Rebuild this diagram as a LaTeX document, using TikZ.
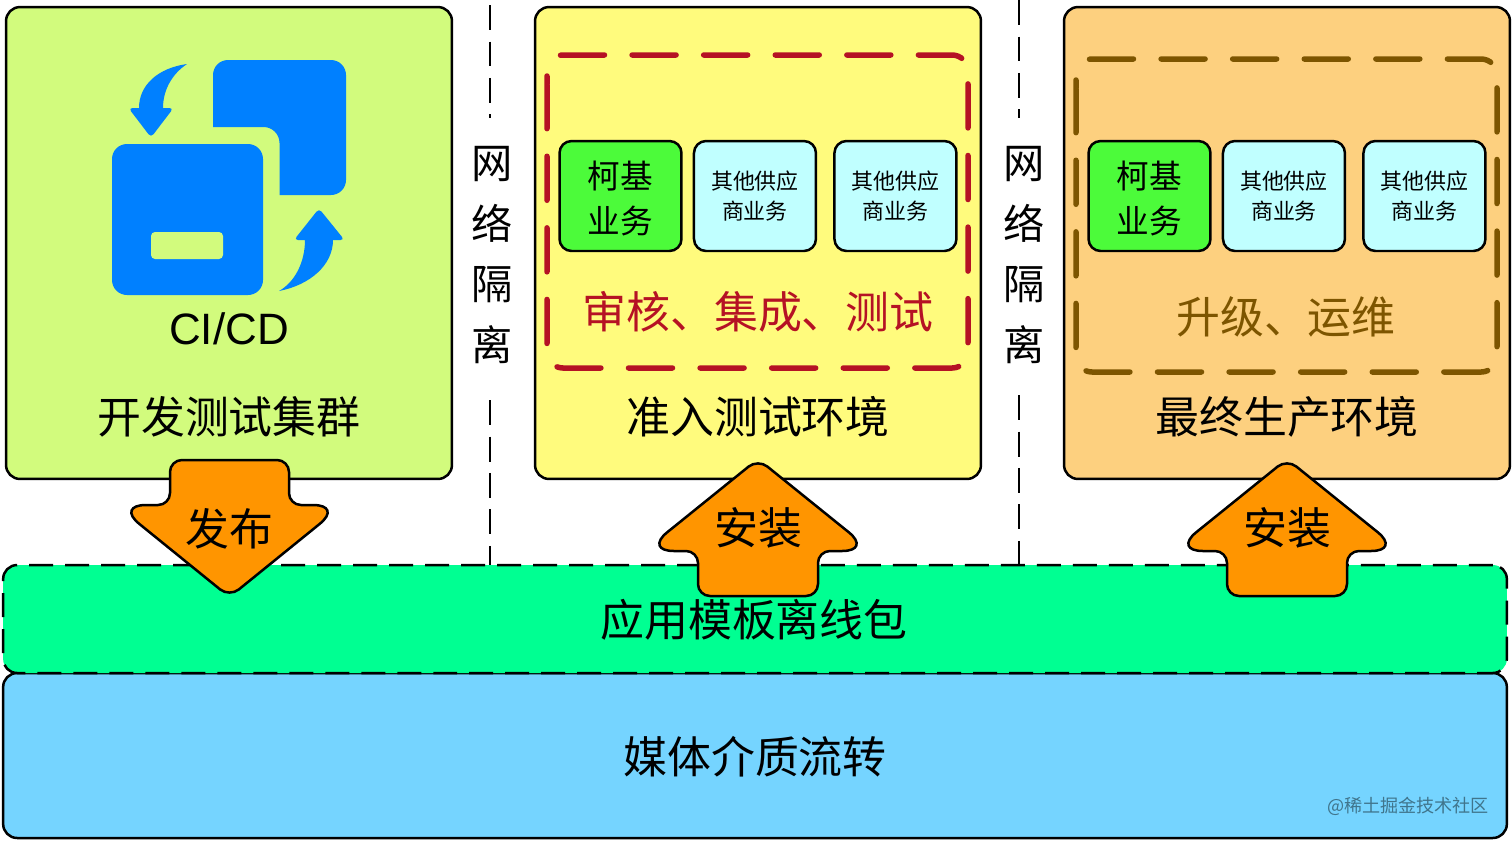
\documentclass[tikz,border=0pt]{standalone}
\usepackage{fontspec}
\setmainfont{Noto Sans CJK SC}
\newfontfamily\latinfont{Liberation Sans}
\usetikzlibrary{positioning}
\definecolor{devgreen}{RGB}{210, 251, 125}
\definecolor{testyellow}{RGB}{255, 251, 125}
\definecolor{prodorange}{RGB}{253, 208, 127}
\definecolor{bandgreen}{RGB}{0, 255, 146}
\definecolor{bandblue}{RGB}{117, 212, 255}
\definecolor{kejigreen}{RGB}{76, 251, 58}
\definecolor{vendorcyan}{RGB}{192, 255, 255}
\definecolor{arroworange}{RGB}{255, 149, 0}
\definecolor{iconblue}{RGB}{0, 128, 255}
\definecolor{framered}{RGB}{181, 18, 36}
\definecolor{framebrown}{RGB}{125, 85, 0}
\tikzset{
  envbox/.style={draw=black, rectangle, rounded corners=0.28cm, line width=0.05cm, minimum width=8.92cm, minimum height=9.44cm},
  bandbox/.style={draw=black, rectangle, rounded corners=0.28cm, line width=0.05cm, minimum width=30.08cm, inner sep=0pt},
  bizbox/.style={draw=black, rectangle, rounded corners=0.24cm, line width=0.05cm, minimum width=2.44cm, minimum height=2.2cm, align=center, inner sep=0pt},
  isoline/.style={line width=0.05cm, dash pattern=on 0.5cm off 0.23cm},
  gateframe/.style={line width=0.11cm, line cap=round, rounded corners=0.32cm, dash pattern=on 0.88cm off 0.552cm, dash phase=0.72cm},
  bigarrow/.style={draw=black, fill=arroworange, line width=0.05cm},
  bigtext/.style={font=\fontsize{25pt}{30pt}\selectfont, inner sep=0pt},
  kejitext/.style={font=\fontsize{18.6pt}{25.6pt}\selectfont},
  vendortext/.style={font=\fontsize{12.5pt}{17pt}\selectfont},
  isotext/.style={font=\fontsize{23.5pt}{34.6pt}\selectfont, align=center, inner sep=0pt}
}

\begin{document}
\begin{tikzpicture}[x=0.02cm, y=-0.02cm]
  \useasboundingbox (0,0) rectangle (1512,840);

  % environments
  \node [envbox, fill=devgreen] (dev) at (229,243) {};
  \node [envbox, fill=testyellow] (test) at (758,243) {};
  \node [envbox, fill=prodorange] (prod) at (1287,243) {};

  % network isolation
  \coordinate (isotopa) at (490,5);
  \coordinate (isoenda) at (490,118);
  \coordinate (isotopb) at (1019,0);
  \coordinate (isoendb) at (1019,118);
  \coordinate (isolowa) at (490,400);
  \coordinate (isobota) at (490,565);
  \coordinate (isolowb) at (1019,395);
  \coordinate (isobotb) at (1019,565);
  \draw [isoline] (isotopa) -- (isoenda);
  \draw [isoline] (isotopb) -- (isoendb);
  \draw [isoline] (isolowa) -- (isobota);
  \draw [isoline] (isolowb) -- (isobotb);
  \node [isotext] (isolabela) at (492,255) {网\\络\\隔\\离};
  \node [isotext] (isolabelb) at (1024,255) {网\\络\\隔\\离};

  % CI/CD icon
  \fill [iconblue, rounded corners=0.3cm] (112,144) rectangle (263,295);
  \fill [devgreen, rounded corners=0.08cm] (151,232) rectangle (223,259);
  \fill [iconblue] (213,127) [rounded corners=0.3cm] -- (213,60) -- (346,60) -- (346,195) [sharp corners] -- (279.5,195) [rounded corners=0.32cm] -- (279.5,127) [sharp corners] -- (213,127) -- cycle;
  \fill [iconblue] (139,108) .. controls (139,85) and (158,68) .. (187,64) .. controls (172,74) and (163,90) .. (163,108) [rounded corners=0.08cm] -- (173.5,108) -- (151,137.5) -- (128.5,108) [sharp corners] -- cycle;
  \fill [iconblue] (305,240) .. controls (305,262) and (295,282) .. (279,291) .. controls (310,285) and (333,265) .. (333,240) [rounded corners=0.08cm] -- (344.5,240) -- (319,208.5) -- (294,240) [sharp corners] -- cycle;
  \node [bigtext, font=\fontsize{25pt}{30pt}\selectfont\latinfont] (cicd) at (229,329) {CI/CD};

  % admission test
  \draw [gateframe, draw=framered] (547,100) -- (547,55) -- (968,55) -- (968,368) -- (547,368) -- cycle;
  \node [bizbox, fill=kejigreen, kejitext, text depth=0pt] (kejitest) at (620.5,196) {\raisebox{-1pt}{柯基}\\\raisebox{-1pt}{业务}};
  \node [bizbox, fill=vendorcyan, vendortext, right=0.2cm of kejitest] (vendora) {其他供应\\商业务};
  \node [bizbox, fill=vendorcyan, vendortext, right=0.32cm of vendora] (vendorb) {其他供应\\商业务};
  \node [bigtext, text=framered] (checks) at (758,312) {审核、集成、测试};

  % production
  \draw [gateframe, draw=framebrown] (1076,104) -- (1076,59) -- (1497,59) -- (1497,372) -- (1076,372) -- cycle;
  \node [bizbox, fill=kejigreen, kejitext, text depth=0pt] (kejiprod) at (1149.5,196) {\raisebox{-1pt}{柯基}\\\raisebox{-1pt}{业务}};
  \node [bizbox, fill=vendorcyan, vendortext, right=0.2cm of kejiprod] (vendorc) {其他供应\\商业务};
  \node [bizbox, fill=vendorcyan, vendortext, right=0.32cm of vendorc] (vendord) {其他供应\\商业务};
  \node [bigtext, text=framebrown] (upgrade) at (1286,317) {升级、运维};

  \node [bigtext] (devname) at (229,417) {开发测试集群};
  \node [bigtext] (testname) at (758,417) {准入测试环境};
  \node [bigtext] (prodname) at (1287,417) {最终生产环境};

  % bands
  \node [bandbox, fill=bandblue, minimum height=3.3cm] (media) at (755,755.5) {};
  \node [bandbox, fill=bandgreen, minimum height=2.16cm, dash pattern=on 0.48cm off 0.24cm] (offline) at (755,619) {};
  \node [bigtext] (offlinename) at (754,620) {应用模板离线包};
  \node [bigtext] (medianame) at (755,757) {媒体介质流转};
  \node [font=\fontsize{10.3pt}{12pt}\selectfont, text=black!45!bandblue, inner sep=0pt] (mark) at (1408,806) {@稀土掘金技术社区};

  % big arrows
  \draw [bigarrow] (229,460) [rounded corners=0.24cm] -- (289,460) -- (289,505) [rounded corners=0.6cm] -- (343,505) [rounded corners=0.24cm] -- (229.5,597) [rounded corners=0.6cm] -- (116,505) [rounded corners=0.24cm] -- (170,505) -- (170,460) -- cycle;
  \node [bigtext] (publish) at (229,529) {发布};
  \draw [bigarrow] (758,596) [rounded corners=0.24cm] -- (698,596) -- (698,551) [rounded corners=0.6cm] -- (644,551) [rounded corners=0.24cm] -- (758,459) [rounded corners=0.6cm] -- (872,551) [rounded corners=0.24cm] -- (818,551) -- (818,596) -- cycle;
  \node [bigtext] (installa) at (758,528) {安装};
  \draw [bigarrow] (1287,596) [rounded corners=0.24cm] -- (1227,596) -- (1227,551) [rounded corners=0.6cm] -- (1173,551) [rounded corners=0.24cm] -- (1287,459) [rounded corners=0.6cm] -- (1401,551) [rounded corners=0.24cm] -- (1347,551) -- (1347,596) -- cycle;
  \node [bigtext] (installb) at (1287,528) {安装};
\end{tikzpicture}
\end{document}
